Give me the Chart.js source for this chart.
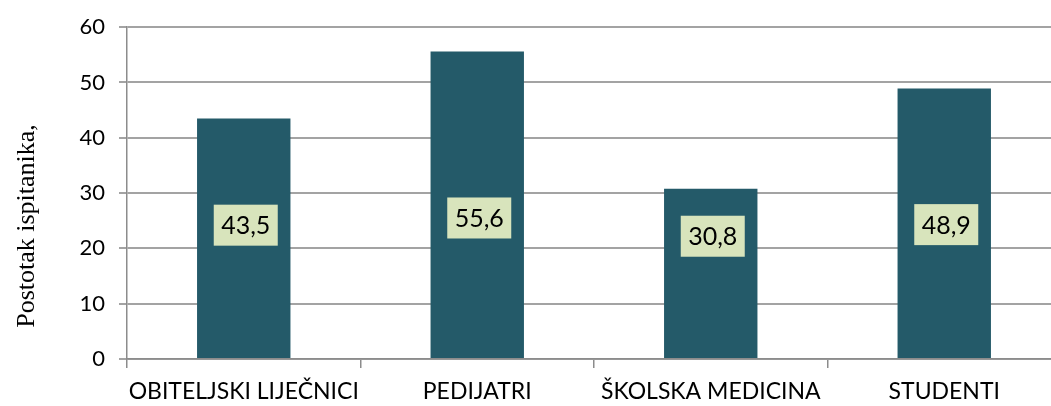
<!DOCTYPE html>
<html>
<head>
<meta charset="utf-8">
<script src="https://cdn.jsdelivr.net/npm/chart.js@4"></script>
<style>
  html, body { margin: 0; padding: 0; background: #fff; overflow: hidden; }
  #wrap { width: 1062px; height: 406px; position: relative; }
</style>
</head>
<body>
<div id="wrap"><canvas id="chart"></canvas></div>
<script>
// podaci
const categories = ["OBITELJSKI LIJEČNICI", "PEDIJATRI", "ŠKOLSKA MEDICINA", "STUDENTI"];
const values = [43.5, 55.6, 30.8, 48.9];
const yTicks = [0, 10, 20, 30, 40, 50, 60];
const axisTitle = "Postotak ispitanika,";

const barColor = "#245a69";
const boxColor = "#d8e4bc";
const gridColor = "#a3a3a3";

// oznake vrijednosti u kućicama (kao u Excelu)
const boxLabels = {
  id: "boxLabels",
  afterDatasetsDraw(chart, args, opts) {
    const ctx = chart.ctx;
    const meta = chart.getDatasetMeta(0);
    const y = chart.scales.y;
    ctx.save();
    ctx.font = "25px Lato";
    ctx.textAlign = "center";
    ctx.textBaseline = "middle";
    meta.data.forEach((bar, i) => {
      const cx = bar.x + 2;
      const cy = y.getPixelForValue(opts.anchors[i]);
      ctx.fillStyle = boxColor;
      ctx.fillRect(cx - 32, cy - 20.5, 64, 41);
      ctx.fillStyle = "#000";
      ctx.fillText(String(values[i]).replace(".", ","), cx, cy + 1);
    });
    ctx.restore();
  }
};

// naslov y osi
const yTitle = {
  id: "yTitle",
  afterDraw(chart) {
    const ctx = chart.ctx;
    ctx.save();
    ctx.translate(27, 226);
    ctx.rotate(-Math.PI / 2);
    ctx.font = "26px 'Liberation Serif'";
    ctx.fillStyle = "#000";
    ctx.textAlign = "center";
    ctx.textBaseline = "middle";
    ctx.fillText(axisTitle, 0, 0);
    ctx.restore();
  }
};

new Chart(document.getElementById("chart"), {
  type: "bar",
  data: {
    labels: categories,
    datasets: [{
      data: values,
      backgroundColor: barColor,
      barPercentage: 0.4,
      categoryPercentage: 1
    }]
  },
  options: {
    responsive: true,
    maintainAspectRatio: false,
    animation: false,
    layout: { padding: { top: 26, right: 1, left: 0, bottom: 0 } },
    plugins: {
      legend: { display: false },
      tooltip: { enabled: false },
      boxLabels: { anchors: [24.2, 25.5, 22.2, 24.3] }
    },
    scales: {
      x: {
        grid: { offset: true, drawOnChartArea: false, tickLength: 9, color: "#8c8c8c", lineWidth: 1.5 },
        border: { color: "#8c8c8c", width: 1.5 },
        ticks: { color: "#000", font: { family: "Lato", size: 23 }, padding: 10, maxRotation: 0 },
        afterFit(s) { s.height = 47; }
      },
      y: {
        min: 0,
        max: 60,
        afterBuildTicks(s) { s.ticks = yTicks.map(v => ({ value: v })); },
        grid: { color: gridColor, lineWidth: 2, tickLength: 8 },
        border: { color: "#8c8c8c", width: 1.5 },
        ticks: { color: "#000", font: { family: "Lato", size: 22 }, padding: 14 },
        afterFit(s) { s.width = 127; }
      }
    }
  },
  plugins: [boxLabels, yTitle]
});
</script>
</body>
</html>
